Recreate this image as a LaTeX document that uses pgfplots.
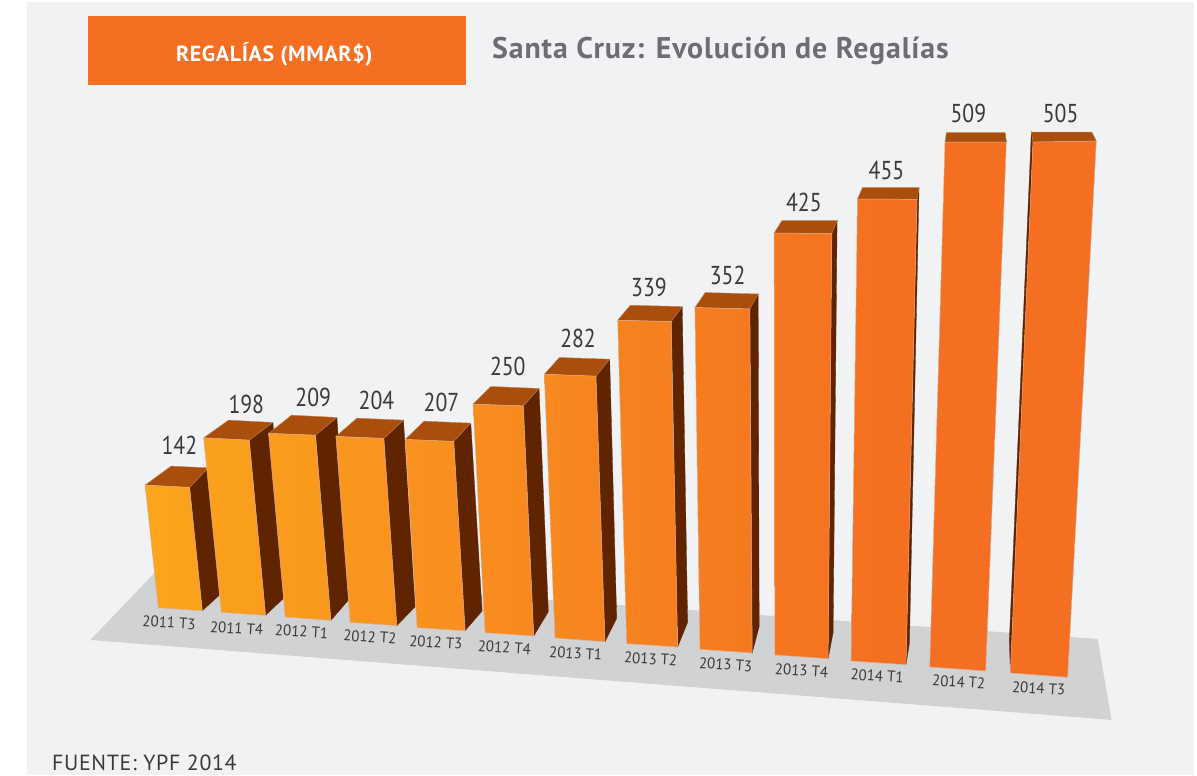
\documentclass[border=0pt]{standalone}
\usepackage{fontspec}
\setmainfont{PT Sans}
\newfontfamily\spaced[LetterSpace=3]{PT Sans}
\usepackage{pgfplots}
\pgfplotsset{compat=1.18}
\definecolor{cA}{HTML}{FBA51C}
\definecolor{cB}{HTML}{F46F21}
\definecolor{ctop}{HTML}{A94E0C}
\definecolor{cside}{HTML}{602400}
\definecolor{bgc}{HTML}{F1F2F4}
\definecolor{floorc}{HTML}{D1D2D4}
\definecolor{txt}{HTML}{3A3A3C}
\definecolor{titlec}{HTML}{6D6E71}
% args: pct left, pct right, front polygon, side polygon, top polygon
\newcommand{\onebar}[5]{%
  \addplot[draw=cside,fill=cside,line width=0.3pt] coordinates {#4} -- cycle;
  \addplot[draw=ctop!70!white,line width=0.4pt,fill=ctop] coordinates {#5} -- cycle;
  \addplot[draw=cB!60!gray!60!white,line width=0.5pt,left color=cB!#1!cA,right color=cB!#2!cA] coordinates {#3} -- cycle;
}
\begin{document}
\begin{tikzpicture}
\begin{axis}[
  scale only axis, width=1197bp, height=775bp,
  xmin=0, xmax=1197, ymin=0, ymax=775, y dir=reverse,
  hide axis, clip=true,
  nodes near coords, point meta=explicit symbolic,
  every node near coord/.append style={anchor=center,inner sep=0pt,outer sep=0pt},
]
% page and panel
\addplot[draw=none,fill=white,nodes near coords={}] coordinates {(0,0)(1197,0)(1197,775)(0,775)} -- cycle;
\addplot[draw=none,fill=bgc,nodes near coords={}] coordinates {(27,2)(1194,2)(1194,775)(27,775)} -- cycle;
% floor
\addplot[draw=none,fill=floorc,nodes near coords={}] coordinates {(90,640)(155,572)(1098,639)(1112,720)} -- cycle;
% header box
\addplot[draw=none,fill=cB,nodes near coords={}] coordinates {(88,16)(466,16)(466,85)(88,85)} -- cycle;
\pgfplotsset{nodes near coords={}}
% bars
\onebar{0}{7}{(144.7,485)(189.3,487.3)(202,610.7)(158,607.7)}{(189.3,487.3)(208,467.7)(219.3,595)(202,610.7)}{(144.7,485)(170.7,466)(208,467.7)(189.3,487.3)}
\onebar{8}{15}{(203.3,437.7)(249,440)(265.3,615.3)(221,612.3)}{(249,440)(272.7,422.3)(283.3,598.3)(265.3,615.3)}{(203.3,437.7)(228.3,420)(272.7,422.3)(249,440)}
\onebar{16}{24}{(268.3,433.3)(315.3,435)(330.7,620.3)(285,617)}{(315.3,435)(336.7,417.3)(348.3,600)(330.7,620.3)}{(268.3,433.3)(291.3,415)(336.7,417.3)(315.3,435)}
\onebar{26}{33}{(335.7,436.3)(383.7,438.3)(396.7,625.7)(350,622.3)}{(383.7,438.3)(403.3,420)(415,606.7)(396.7,625.7)}{(335.7,436.3)(356.7,418)(403.3,420)(383.7,438.3)}
\onebar{35}{42}{(405,439.3)(453.7,441.3)(465,630.7)(417,627.7)}{(453.7,441.3)(470.7,423)(482,611)(465,630.7)}{(405,439.3)(424,421)(470.7,423)(453.7,441.3)}
\onebar{45}{52}{(473,404)(523.3,405.7)(533.7,636)(485,632.7)}{(523.3,405.7)(539,388.3)(548.3,611.7)(533.7,636)}{(473,404)(490.7,386.3)(539,388.3)(523.3,405.7)}
\onebar{54}{62}{(544.3,374)(596,376)(605,641.7)(555,638)}{(596,376)(609.7,359)(616.7,618.3)(605,641.7)}{(544.3,374)(559.3,357.3)(609.7,359)(596,376)}
\onebar{64}{72}{(617.7,320)(671.3,321.3)(677.7,647)(626.7,643.7)}{(671.3,321.3)(682.3,306.3)(687.7,622.3)(677.7,647)}{(617.7,320)(630.3,305)(682.3,306.3)(671.3,321.3)}
\onebar{75}{82}{(695,307.3)(750,308.7)(752.3,653)(700,649.3)}{(750,308.7)(758.3,293.7)(759.3,626.7)(752.3,653)}{(695,307.3)(705.3,292.3)(758.3,293.7)(750,308.7)}
\onebar{86}{93}{(774.3,232.7)(832,233.3)(828.3,658.7)(775,655)}{(832,233.3)(837.3,220.3)(833.3,632.7)(828.3,658.7)}{(774.3,232.7)(782,220.3)(837.3,220.3)(832,233.3)}
\onebar{96}{100}{(857.7,198.7)(917.3,199)(906.3,664.7)(851.3,661)}{(917.3,199)(919.3,187.3)(909.7,643)(906.3,664.7)}{(857.7,198.7)(862.7,187.3)(919.3,187.3)(917.3,199)}
\onebar{100}{100}{(945.3,141.7)(1006.7,141.7)(986,671)(930,667)}{(1006.7,141.7)(1005.3,132.3)(1005.3,132.3)(1006.7,141.7)}{(945.3,141.7)(946.7,132.3)(1005.3,132.3)(1006.7,141.7)}
\onebar{100}{100}{(1033.3,141.7)(1096.7,140.7)(1068,677.3)(1010.7,673)}{(1031.7,131.7)(1033.3,141.7)(1010.7,673)(1009.7,640)}{(1033.3,141.7)(1031.7,131.7)(1092.3,131.7)(1096.7,140.7)}
% value labels
\addplot[only marks,mark=none,
  nodes near coords,
  every node near coord/.append style={font=\fontsize{26}{26}\selectfont,text=txt,xscale=0.84}]
 coordinates {(179,445)[142] (246,404)[198] (313,397.3)[209] (376.3,400)[204] (441.3,402.3)[207]
  (507.7,366.7)[250] (578,338)[282] (649,286.7)[339] (727.7,275)[352] (804,201.7)[425]
  (886.7,169.7)[455] (968.7,112.7)[509] (1061,112.7)[505]};
% category labels
\addplot[only marks,mark=none,
  nodes near coords,
  every node near coord/.append style={font=\fontsize{15.5}{16}\selectfont,text=txt,rotate=-3.5,xscale=0.97}]
 coordinates {(168.7,622.7)[2011 T3] (236.3,628.3)[2011 T4] (301.3,631.7)[2012 T1] (369.7,637)[2012 T2]
  (435.7,642.3)[2012 T3] (504.3,647.7)[2012 T4] (575.7,653.3)[2013 T1] (650.7,659)[2013 T2]
  (725.7,664.7)[2013 T3] (801.7,670.7)[2013 T4] (877.3,676)[2014 T1] (959,682)[2014 T2] (1039,688.3)[2014 T3]};
% texts
\addplot[only marks,mark=none,nodes near coords,
  every node near coord/.append style={font=\fontsize{22}{22}\bfseries\spaced\selectfont,text=white}]
 coordinates {(274,54)[REGALÍAS (MMAR\$)]};
\addplot[only marks,mark=none,nodes near coords,
  every node near coord/.append style={font=\fontsize{30}{30}\bfseries\spaced\selectfont,text=titlec}]
 coordinates {(720.5,50)[Santa Cruz: Evolución de Regalías]};
\addplot[only marks,mark=none,nodes near coords,
  every node near coord/.append style={font=\fontsize{22}{22}\spaced\selectfont,text=txt}]
 coordinates {(144,763)[FUENTE: YPF 2014]};
\end{axis}
\end{tikzpicture}
\end{document}
